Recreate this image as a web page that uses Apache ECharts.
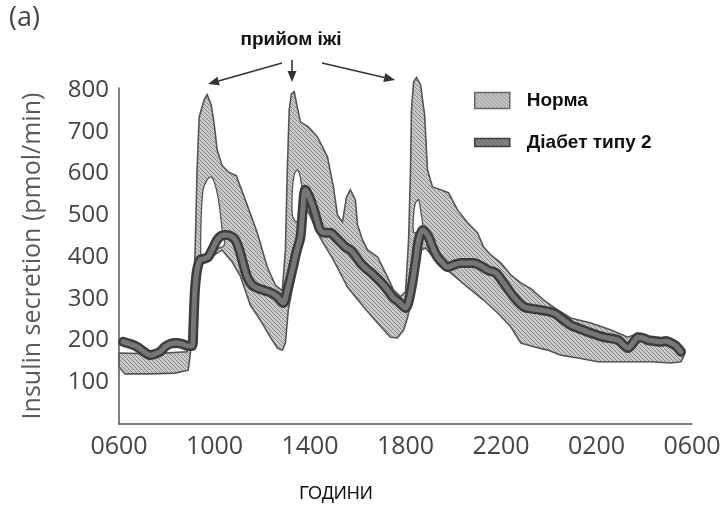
<!DOCTYPE html>
<html><head><meta charset="utf-8">
<script src="https://cdn.jsdelivr.net/npm/echarts@6/dist/echarts.min.js"></script>
<style>html,body{margin:0;padding:0;background:#fff}#c{width:726px;height:506px}</style>
</head><body><div id="c"></div>
<script>
// ---- data (x = hours after 06:00, y = insulin secretion, pmol/min) ----
const xTickHours = [0, 4, 8, 12, 16, 20, 24];
const xTickLabels = ['0600', '1000', '1400', '1800', '2200', '0200', '0600'];
const yTickValues = [100, 200, 300, 400, 500, 600, 700, 800];

const seriesNames = ['Норма', 'Діабет типу 2'];

// Normal range band: upper and lower envelopes
const normUpper = [[0,170],[1.3,168],[2.85,173],[3.06,225],[3.19,417],[3.27,609],[3.36,736],[3.57,777],[3.69,789],[3.86,765],[3.99,717],[4.11,657],[4.32,619],[4.57,604],[4.91,595],[5.29,537],[5.79,458],[6.21,376],[6.55,333],[6.84,319],[6.97,417],[7.05,609],[7.13,753],[7.22,791],[7.34,796],[7.47,758],[7.6,724],[7.93,712],[8.31,688],[8.73,640],[8.98,568],[9.15,501],[9.36,484],[9.53,544],[9.69,561],[9.9,537],[9.99,477],[10.2,441],[10.41,417],[10.83,400],[11.25,352],[11.5,321],[11.79,305],[12.0,317],[12.13,441],[12.21,609],[12.25,753],[12.34,820],[12.46,830],[12.63,813],[12.8,741],[12.92,609],[13.13,568],[13.47,561],[13.8,554],[14.18,513],[14.6,482],[15.02,458],[15.27,424],[15.57,405],[15.99,386],[16.41,357],[16.83,338],[17.25,324],[17.79,297],[18.38,273],[18.92,254],[19.76,242],[20.61,225],[21.32,208],[21.74,218],[22.16,206],[22.83,206],[23.25,197],[23.54,182],[23.67,165]];
const normLower = [[0,137],[0.25,120],[1.3,120],[2.35,122],[2.9,129],[2.98,165],[3.11,249],[3.23,369],[3.4,388],[3.82,398],[4.32,417],[4.74,388],[5.08,355],[5.5,285],[5.92,249],[6.34,208],[6.63,182],[6.84,177],[6.97,194],[7.09,273],[7.39,364],[7.68,484],[7.89,513],[8.43,446],[8.98,393],[9.57,328],[10.24,281],[10.83,242],[11.37,208],[11.66,206],[11.92,225],[12.08,254],[12.25,297],[12.46,364],[12.67,417],[12.84,422],[13.34,386],[13.89,362],[14.6,328],[15.27,297],[15.86,266],[16.41,233],[16.83,194],[17.37,185],[17.96,177],[18.5,165],[19.22,158],[20.06,149],[21.15,149],[22.28,149],[23.12,146],[23.54,149],[23.67,165]];
// gaps inside the normal band after each meal
const normGap1 = [[3.44,398],[3.44,489],[3.52,561],[3.69,585],[3.86,592],[4.03,573],[4.2,525],[4.32,465],[4.41,429],[4.03,417],[3.61,398]];
const normGap2 = [[7.26,501],[7.26,561],[7.34,597],[7.47,609],[7.6,590],[7.68,549],[7.6,508],[7.43,484]];
const normGap3 = [[12.34,460],[12.34,501],[12.42,530],[12.55,537],[12.63,513],[12.72,470],[12.55,460]];

// Type 2 diabetes curve
const diabetes = [[0.17,197],[0.46,192],[0.76,185],[1.05,173],[1.3,165],[1.51,168],[1.72,173],[1.93,185],[2.14,192],[2.39,194],[2.64,192],[2.9,187],[3.06,187],[3.11,225],[3.15,285],[3.19,328],[3.27,369],[3.4,393],[3.57,396],[3.73,400],[3.9,417],[4.11,441],[4.28,451],[4.45,453],[4.66,451],[4.87,441],[5.04,417],[5.16,393],[5.37,352],[5.58,333],[5.79,326],[6.04,321],[6.25,317],[6.46,312],[6.63,305],[6.88,290],[7.05,321],[7.26,369],[7.43,412],[7.6,448],[7.68,501],[7.8,561],[7.93,549],[8.14,518],[8.31,484],[8.43,465],[8.64,458],[8.85,458],[9.06,448],[9.27,436],[9.48,424],[9.69,417],[9.9,403],[10.11,386],[10.32,374],[10.53,364],[10.83,348],[11.08,333],[11.25,321],[11.5,302],[11.71,293],[12.0,278],[12.21,314],[12.42,388],[12.55,441],[12.72,465],[12.97,448],[13.13,424],[13.34,400],[13.55,386],[13.76,376],[14.01,381],[14.31,386],[14.6,386],[14.85,386],[15.15,379],[15.44,369],[15.78,362],[16.11,338],[16.53,305],[16.95,281],[17.33,276],[17.67,273],[18.21,266],[18.63,249],[18.92,237],[19.22,230],[19.76,218],[20.31,208],[20.9,201],[21.32,182],[21.53,194],[21.74,208],[21.95,206],[22.16,201],[22.41,199],[22.7,197],[22.91,199],[23.12,194],[23.33,187],[23.54,173]];

// ---- styling helpers ----
function hatch(bg, fg, size) {
  const c = document.createElement('canvas');
  c.width = c.height = size;
  const g = c.getContext('2d');
  g.fillStyle = bg; g.fillRect(0, 0, size, size);
  g.strokeStyle = fg; g.lineWidth = 1;
  g.beginPath();
  for (let k = -1; k <= 1; k++) { g.moveTo(-1, -1 + k * size); g.lineTo(size + 1, size + 1 + k * size); }
  g.stroke();
  return { image: c, repeat: 'repeat' };
}
const bandFill = hatch('#c9c9c9', '#8c8c8c', 4);
const tubeFill = hatch('#8a8a8a', '#555', 4);

function arrow(x1, y1, x2, y2) {
  const a = Math.atan2(y2 - y1, x2 - x1), L = 11, W = 4.5;
  const bx = x2 - L * Math.cos(a), by = y2 - L * Math.sin(a);
  return [
    { type: 'line', shape: { x1, y1, x2: bx, y2: by }, style: { stroke: '#333', lineWidth: 1.6 } },
    { type: 'polygon', shape: { points: [[x2, y2], [bx + W * Math.sin(a), by - W * Math.cos(a)], [bx - W * Math.sin(a), by + W * Math.cos(a)]] }, style: { fill: '#333' } }
  ];
}

const chart = echarts.init(document.getElementById('c'), null, { renderer: 'canvas' });
chart.setOption({
  backgroundColor: '#fff',
  animation: false,
  grid: { left: 119, right: 34, top: 88, bottom: 82 },
  xAxis: {
    type: 'value', min: 0, max: 24, interval: 4,
    axisLine: { show: true, onZero: false, lineStyle: { color: '#555', width: 1.5 } },
    axisTick: { show: false }, splitLine: { show: false },
    axisLabel: {
      formatter: v => { const i = xTickHours.indexOf(v); return i >= 0 ? xTickLabels[i] : ''; },
      fontFamily: 'Open Sans', fontSize: 25, color: '#444', margin: 10
    }
  },
  yAxis: {
    type: 'value', min: 0, max: 805, interval: 100,
    name: 'Insulin secretion (pmol/min)', nameLocation: 'middle', nameGap: 74,
    nameTextStyle: { fontFamily: 'Open Sans', fontSize: 25, color: '#5a5a5a' },
    axisLine: { show: true, lineStyle: { color: '#555', width: 1.5 } },
    axisTick: { show: false }, splitLine: { show: false },
    axisLabel: {
      formatter: v => yTickValues.includes(v) ? String(v) : '',
      fontFamily: 'Open Sans', fontSize: 24, color: '#444', margin: 10
    }
  },
  legend: {
    orient: 'vertical', left: 474, top: 91, padding: 0, itemWidth: 35, itemHeight: 16, itemGap: 23,
    selectedMode: false,
    textStyle: { fontFamily: 'Liberation Sans', fontWeight: 'bold', fontSize: 19, color: '#111', padding: [0, 0, 0, 12] },
    data: [
      { name: seriesNames[0], icon: 'rect', itemStyle: { color: bandFill, borderColor: '#666', borderWidth: 1.5 } },
      { name: seriesNames[1], icon: 'path://M0,0H35V8H0Z', itemStyle: { color: tubeFill, borderColor: '#3e3e3e', borderWidth: 1.5 } }
    ]
  },
  graphic: [
    { type: 'text', left: 9, top: 5, style: { text: '(a)', font: '27px "Open Sans"', fill: '#444' } },
    { type: 'text', x: 291, y: 40, style: { text: 'прийом іжі', font: 'bold 19px "Liberation Sans"', fill: '#111', align: 'center', verticalAlign: 'middle' } },
    { type: 'text', x: 336, y: 494, style: { text: 'ГОДИНИ', font: '18px "Liberation Sans"', fill: '#111', align: 'center', verticalAlign: 'middle' } },
    ...arrow(282, 63, 208, 84),
    ...arrow(292, 60, 292, 82),
    ...arrow(322, 63, 395, 80)
  ],
  series: [
    {
      name: seriesNames[0], type: 'custom', clip: false, z: 1,
      itemStyle: { color: bandFill, borderColor: '#666', borderWidth: 1.5 },
      data: normUpper,
      renderItem: function (params, api) {
        if (params.dataIndex !== 0) return;
        const pts = normUpper.map(p => api.coord(p)).concat(normLower.slice().reverse().map(p => api.coord(p)));
        const children = [{ type: 'polygon', shape: { points: pts }, style: { fill: bandFill, stroke: '#555', lineWidth: 1.6 } }];
        [normGap1, normGap2, normGap3].forEach(h => children.push({
          type: 'polygon', shape: { points: h.map(p => api.coord(p)), smooth: 0.3 },
          style: { fill: '#fff', stroke: '#555', lineWidth: 1.3 }
        }));
        return { type: 'group', children };
      }
    },
    {
      name: seriesNames[1], type: 'line', data: diabetes, showSymbol: false, smooth: 0.3, z: 3,
      lineStyle: { width: 10, color: '#3c3c3c', cap: 'round', join: 'round' }, itemStyle: { color: '#3c3c3c' }
    },
    {
      name: seriesNames[1], type: 'line', data: diabetes, showSymbol: false, smooth: 0.3, z: 4,
      lineStyle: { width: 5, color: '#767676', cap: 'round', join: 'round' }, itemStyle: { color: '#767676' }
    }
  ]
});
</script></body></html>
